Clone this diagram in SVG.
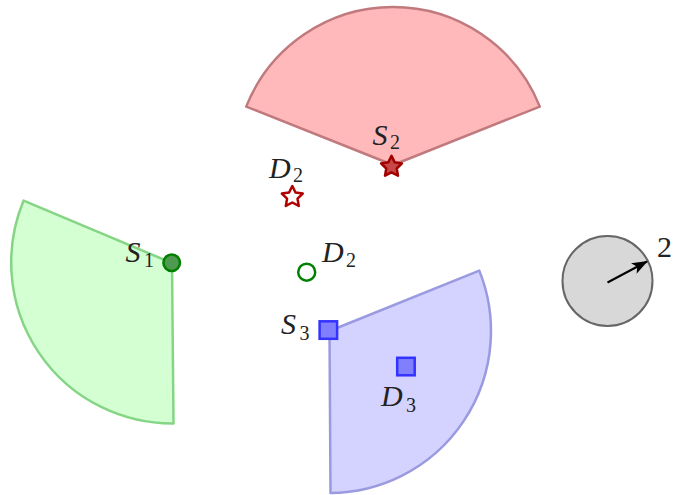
<svg xmlns="http://www.w3.org/2000/svg" width="673" height="495" viewBox="0 0 673 495">
<style>
.sector{stroke-width:2.5;stroke-linejoin:round}
</style>
<defs>
<path id="star" d="M0,-11 L3.23,-4.45 L10.46,-3.4 L5.24,1.7 L6.47,8.9 L0,5.5 L-6.47,8.9 L-5.24,1.7 L-10.46,-3.4 L-3.23,-4.45 Z"/>
<marker id="arr" viewBox="0 0 16 12" refX="15" refY="6" markerWidth="16" markerHeight="12" markerUnits="userSpaceOnUse" orient="auto">
<path d="M0,0 L16,6 L0,12 L4,6 Z" fill="#000"/>
</marker>
</defs>
<rect width="673" height="495" fill="#fff"/>
<g id="sector-S2">
<path class="sector" d="M393,165 L246.2,106.6 A158,158 0 0 1 539.8,106.6 Z" fill="#ffb9bb" stroke="#c07a7e"/>
</g>
<g id="sector-S1">
<path class="sector" d="M172,263 L23.6,200.6 A161,161 0 0 0 173.5,423.5 Z" fill="#d3ffd3" stroke="#85d585"/>
</g>
<g id="sector-S3">
<path class="sector" d="M329.5,331 L479.3,270.6 A162,162 0 0 1 330.5,493 Z" fill="#d4d2ff" stroke="#9a9ae0"/>
</g>
<g font-family="Liberation Serif, DejaVu Serif, serif" font-size="30" fill="#222">
<g id="range">
<circle cx="607.5" cy="281" r="45" fill="#d8d8d8" stroke="#666" stroke-width="2"/>
<text x="657" y="257">2</text>
</g>
<g id="S2">
<use href="#star" x="391.5" y="166.8" fill="#c84848" stroke="#a00000" stroke-width="2.5" stroke-linejoin="round"/>
<text x="372.5" y="145"><tspan font-style="italic">S</tspan><tspan font-size="20" x="390" y="149">2</tspan></text>
</g>
<g id="D2-star">
<use href="#star" x="292.3" y="197" fill="#fff" stroke="#b00000" stroke-width="2.5" stroke-linejoin="round"/>
<text x="269" y="178"><tspan font-style="italic">D</tspan><tspan font-size="20" x="293" y="182">2</tspan></text>
</g>
<g id="S1">
<circle cx="171.7" cy="262.8" r="8.3" fill="#4e9a4e" stroke="#008000" stroke-width="2.5"/>
<text x="125.5" y="262"><tspan font-style="italic">S</tspan><tspan font-size="20" x="144" y="267">1</tspan></text>
</g>
<g id="D2-circle">
<circle cx="306.7" cy="272.2" r="8.5" fill="#fff" stroke="#008000" stroke-width="2.5"/>
<text x="322" y="262"><tspan font-style="italic">D</tspan><tspan font-size="20" x="346" y="266.5">2</tspan></text>
</g>
<g id="S3">
<rect x="319.6" y="321.3" width="17.5" height="17.5" fill="#8080ff" stroke="#3333ff" stroke-width="2.5"/>
<text x="281" y="334"><tspan font-style="italic">S</tspan><tspan font-size="20" x="299.5" y="340">3</tspan></text>
</g>
<g id="D3">
<rect x="397.2" y="357.8" width="17.5" height="17.5" fill="#8080ff" stroke="#3333ff" stroke-width="2.5"/>
<text x="381" y="406"><tspan font-style="italic">D</tspan><tspan font-size="20" x="406" y="411.5">3</tspan></text>
</g>
</g>
<g id="connectors">
<line x1="607.5" y1="282.5" x2="647" y2="261.5" stroke="#000" stroke-width="2" marker-end="url(#arr)"/>
</g>
</svg>
